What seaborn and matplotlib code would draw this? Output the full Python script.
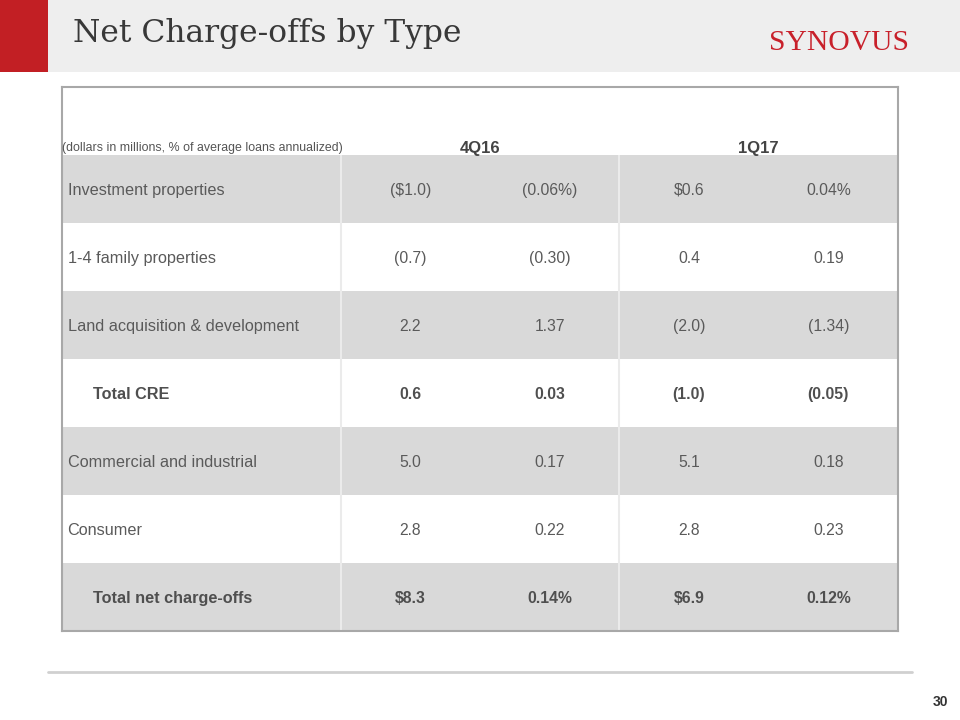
import numpy as np
import pandas as pd
import matplotlib
matplotlib.use("Agg")
import matplotlib.pyplot as plt
import seaborn as sns
from matplotlib.colors import ListedColormap
from matplotlib.patches import Rectangle

# Table data
categories = ["Investment properties", "1-4 family properties",
              "Land acquisition & development", "Total CRE",
              "Commercial and industrial", "Consumer", "Total net charge-offs"]
periods = ["4Q16", "1Q17"]
amt_4q16 = [-1.0, -0.7, 2.2, 0.6, 5.0, 2.8, 8.3]
pct_4q16 = [-0.06, -0.30, 1.37, 0.03, 0.17, 0.22, 0.14]
amt_1q17 = [0.6, 0.4, -2.0, -1.0, 5.1, 2.8, 6.9]
pct_1q17 = [0.04, 0.19, -1.34, -0.05, 0.18, 0.23, 0.12]
is_total = [False, False, False, True, False, False, True]
with_units = [True, False, False, False, False, False, True]
shaded = [1, 0, 1, 0, 1, 0, 1]


def fmt(v, prefix="", suffix="", dec=1):
    s = f"{prefix}{abs(v):.{dec}f}{suffix}"
    return f"({s})" if v < 0 else s


sns.set_theme(style="white")
plt.rcParams['font.family'] = ['Liberation Sans', 'DejaVu Sans']

fig = plt.figure(figsize=(9.6, 7.2), dpi=100)
fig.patch.set_facecolor("white")

# header band + red block
fig.patches.append(Rectangle((0, 1 - 72 / 720), 1, 72 / 720, transform=fig.transFigure,
                             facecolor="#eeeeee", edgecolor="none", zorder=0))
fig.patches.append(Rectangle((0, 1 - 72 / 720), 48 / 960, 72 / 720, transform=fig.transFigure,
                             facecolor="#c21f24", edgecolor="none", zorder=1))
fig.text(73 / 960, 1 - 42 / 720, "Net Charge-offs by Type", family="DejaVu Serif",
         fontsize=22.6, color="#383838", va="baseline", ha="left")
fig.text(769 / 960, 1 - 50 / 720, "SYNOVUS", family="Liberation Serif",
         fontsize=21.3, color="#c8202a", va="baseline", ha="left")

# table shading via heatmap: header row + 7 rows, 6 unit columns (label spans 2)
shade = np.zeros((8, 6))
shade[1:, :] = np.array(shaded)[:, None]
shade_df = pd.DataFrame(shade)

ax = fig.add_axes([62 / 960, 1 - 631 / 720, 836 / 960, 544 / 720])
sns.heatmap(shade_df, cmap=ListedColormap(["white", "#d9d9d9"]), vmin=0, vmax=1,
            cbar=False, xticklabels=False, yticklabels=False, ax=ax)
for s in ax.spines.values():
    s.set_visible(True)
    s.set_color("#a8a8a8")
    s.set_linewidth(1.5)
ax.vlines([2, 4], 1, 8, color="#ebebeb", lw=1.5)

# header
ax.text(0.0, 0.88, "(dollars in millions, % of average loans annualized)",
        fontsize=8.9, color="#555555", ha="left", va="center_baseline")
for i, p in enumerate(periods):
    ax.text(3 + 2 * i, 0.88, p, fontsize=12, fontweight="bold",
            color="#444444", ha="center", va="center_baseline")

# rows
cols = [(amt_4q16, "amt"), (pct_4q16, "pct"), (amt_1q17, "amt"), (pct_1q17, "pct")]
for r, cat in enumerate(categories):
    y = r + 1.5
    bold = is_total[r]
    weight = "bold" if bold else "normal"
    color = "#4f4f4f" if bold else "#5a5a5a"
    ax.text(0.22 if bold else 0.04, y, cat, fontsize=11.7, fontweight=weight,
            color=color, ha="left", va="center_baseline")
    for c, (vals, kind) in enumerate(cols):
        v = vals[r]
        if kind == "amt":
            txt = fmt(v, prefix="$" if with_units[r] else "", dec=1)
        else:
            txt = fmt(v, suffix="%" if with_units[r] else "", dec=2)
        ax.text(2.5 + c, y, txt, fontsize=11.3, fontweight=weight,
                color=color, ha="center", va="center_baseline")

# footer line and page number
fig.add_artist(plt.Line2D([48 / 960, 912 / 960], [1 - 672 / 720, 1 - 672 / 720],
                          transform=fig.transFigure, color="#d0d0d0", lw=2))
fig.text(940 / 960, 1 - 702 / 720, "30", fontsize=10, fontweight="bold",
         color="#333333", ha="center", va="center")

fig.savefig("out.png", dpi=100)
